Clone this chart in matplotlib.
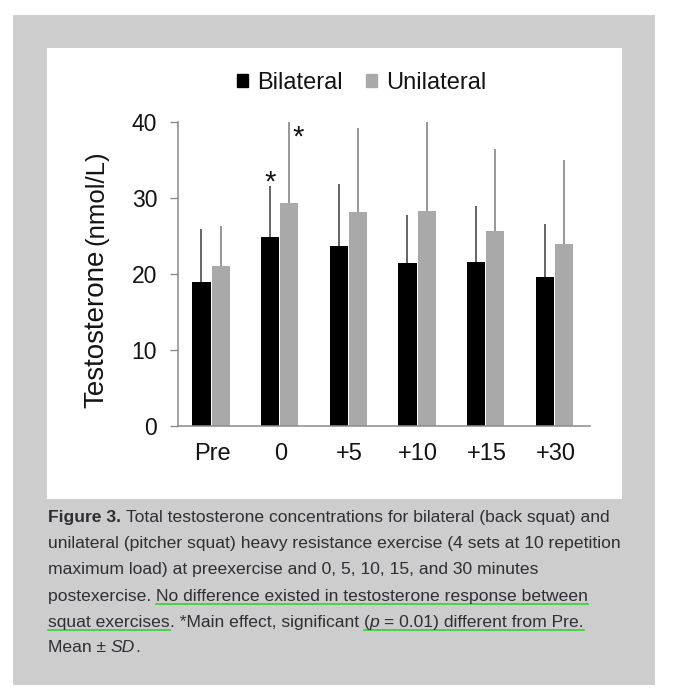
import matplotlib
matplotlib.use("Agg")
import matplotlib.pyplot as plt
import numpy as np
from matplotlib.patches import Rectangle, Patch
from matplotlib.lines import Line2D

plt.rcParams['font.family'] = ['Liberation Sans', 'DejaVu Sans']

# values (nmol/L)
timepoints = ['Pre', '0', '+5', '+10', '+15', '+30']
bilateral_mean = [19.0, 24.9, 23.7, 21.4, 21.6, 19.6]
bilateral_sd = [6.9, 6.7, 8.1, 6.4, 7.3, 7.0]
unilateral_mean = [21.0, 29.4, 28.1, 28.3, 25.7, 23.9]
unilateral_sd = [5.3, 10.6, 11.1, 11.7, 10.8, 11.1]
series_names = ['Bilateral', 'Unilateral']
# timepoints marked with * (main effect vs Pre)
starred = ['0']

# caption runs: (text, style, underlined)
caption = [
    [("Figure 3. ", "bold", False),
     ("Total testosterone concentrations for bilateral (back squat) and", "normal", False)],
    [("unilateral (pitcher squat) heavy resistance exercise (4 sets at 10 repetition", "normal", False)],
    [("maximum load) at preexercise and 0, 5, 10, 15, and 30 minutes", "normal", False)],
    [("postexercise. ", "normal", False),
     ("No difference existed in testosterone response between", "normal", True)],
    [("squat exercises", "normal", True),
     (". *Main effect, significant ", "normal", False),
     ("(", "normal", True), ("p ", "italic", True),
     ("= 0.01) different from Pre.", "normal", True)],
    [("Mean \u00b1 ", "normal", False), ("SD", "italic", False), (".", "normal", False)],
]

W, H = 675, 700
BIL_COLOR = '#000000'
UNI_COLOR = '#a9a9a9'
AXIS_GRAY = '#8a8a8a'
TEXT = '#141414'
CAP_TEXT = '#2e2e34'


def fx(px):
    return px / W


def fy(py):
    return 1 - py / H


fig = plt.figure(figsize=(W / 100, H / 100), dpi=100)
fig.patch.set_facecolor('white')

# gray frame and white chart panel
fig.add_artist(Rectangle((fx(13), fy(685)), fx(655) - fx(13), fy(15) - fy(685),
                         transform=fig.transFigure, facecolor='#cdcdcd',
                         edgecolor='none', zorder=-3))
fig.add_artist(Rectangle((fx(47), fy(499)), fx(622) - fx(47), fy(48) - fy(499),
                         transform=fig.transFigure, facecolor='white',
                         edgecolor='none', zorder=-2))

ax = fig.add_axes([fx(178), fy(426), fx(590) - fx(178), fy(122) - fy(426)])
ax.patch.set_visible(False)

x = np.arange(len(timepoints))
width = 0.265
xb = x - 0.158
xu = x + 0.122
ax.bar(xb, bilateral_mean, width, color=BIL_COLOR, label=series_names[0], zorder=2)
ax.bar(xu, unilateral_mean, width, color=UNI_COLOR, label=series_names[1], zorder=2)

zeros = np.zeros(len(x))
eb1 = ax.errorbar(xb, bilateral_mean, yerr=[zeros, bilateral_sd], fmt='none',
                  ecolor='#3a3a3a', elinewidth=1.1, capsize=0, zorder=1)
eb2 = ax.errorbar(xu, unilateral_mean, yerr=[zeros, unilateral_sd], fmt='none',
                  ecolor='#7a7a7a', elinewidth=1.1, capsize=0, zorder=1)
for eb in (eb1, eb2):
    for c in eb[2]:
        c.set_clip_on(False)

# significance stars
for t in starred:
    i = timepoints.index(t)
    ax.annotate('*', xy=(xb[i], bilateral_mean[i] + bilateral_sd[i]),
                xytext=(0, 2.5), textcoords='offset points', ha='center',
                va='center', fontsize=21, color=TEXT, annotation_clip=False)
    ax.annotate('*', xy=(xu[i], unilateral_mean[i] + unilateral_sd[i]),
                xytext=(6.5, -11), textcoords='offset points', ha='center',
                va='center', fontsize=21, color=TEXT, annotation_clip=False)

ax.set_xlim(-0.5, len(timepoints) - 0.5)
ax.set_ylim(0, 40)
ax.set_yticks([0, 10, 20, 30, 40])
ax.set_xticks(x)
ax.set_xticklabels(timepoints)
for s in ('top', 'right'):
    ax.spines[s].set_visible(False)
for s in ('left', 'bottom'):
    ax.spines[s].set_color(AXIS_GRAY)
    ax.spines[s].set_linewidth(1.1)
ax.tick_params(axis='y', length=5.5, width=1.0, color=AXIS_GRAY, pad=9.5,
               labelsize=16.5, labelcolor=TEXT)
ax.tick_params(axis='x', length=0, pad=12, labelsize=17, labelcolor=TEXT)

fig.legend(handles=[Patch(color=BIL_COLOR), Patch(color=UNI_COLOR)],
           labels=series_names, loc='center', bbox_to_anchor=(fx(362), fy(83)),
           ncol=2, frameon=False, fontsize=17, handlelength=0.45,
           handleheight=0.5, handletextpad=0.4, columnspacing=1.0,
           borderpad=0, labelcolor=TEXT)

renderer = fig.canvas.get_renderer()


def advance(text, **kw):
    a = fig.text(0, 0, '|' + text + '|', **kw)
    b = fig.text(0, 0, '||', **kw)
    w = a.get_window_extent(renderer).width - b.get_window_extent(renderer).width
    a.remove()
    b.remove()
    return w


# y label: large word plus smaller unit
ylab = fig.text(fx(103), fy(408), 'Testosterone', rotation=90,
                rotation_mode='anchor', ha='left', va='baseline',
                fontsize=20, color=TEXT)
top = ylab.get_window_extent(renderer).y1
fig.text(fx(103), (top + 5) / H, '(nmol/L)', rotation=90,
         rotation_mode='anchor', ha='left', va='baseline',
         fontsize=18.5, color=TEXT)

# caption
cap_size = 12.6
baselines = [522, 548, 574, 601, 627, 652]
for runs, base in zip(caption, baselines):
    xpos = 48.0
    for text, style, underline in runs:
        kw = dict(fontsize=cap_size, color=CAP_TEXT,
                  fontweight='bold' if style == 'bold' else 'normal',
                  fontstyle='italic' if style == 'italic' else 'normal')
        fig.text(fx(xpos), fy(base), text, ha='left', va='baseline', **kw)
        adv = advance(text, **kw)
        if underline:
            fig.add_artist(Line2D([fx(xpos), fx(xpos + adv)],
                                  [fy(base + 3), fy(base + 3)],
                                  transform=fig.transFigure,
                                  color='#3fd23f', linewidth=1.3))
        xpos += adv

fig.savefig('out.png', dpi=100)
